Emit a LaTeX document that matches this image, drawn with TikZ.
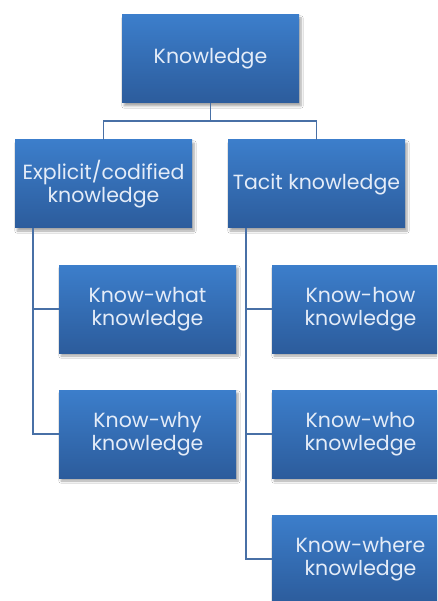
\documentclass[tikz,border=0pt]{standalone}
\usepackage{fontspec}
\setmainfont{Poppins}
\usepackage{tikz}
\usetikzlibrary{positioning, shadows.blur}

\definecolor{boxtop}{RGB}{60,126,203}
\definecolor{boxbot}{RGB}{44,92,156}
\definecolor{linkcol}{RGB}{72,112,166}
\definecolor{textcol}{RGB}{228,236,248}

\begin{document}
\begin{tikzpicture}[x=1pt, y=-1pt]
	\tikzset{
		kbox/.style={rectangle, minimum width=177pt, minimum height=88pt, inner sep=2pt,
			top color=boxtop, bottom color=boxbot, draw=none, text=textcol, align=center,
			font=\fontsize{20.5}{23}\selectfont,
			blur shadow={shadow xshift=2pt, shadow yshift=-3pt, shadow blur steps=6, shadow opacity=35}},
		link/.style={draw=linkcol, line width=1.8pt},
	}
	
	% Canvas
	\clip (0,0) rectangle (437,601);
	\fill[white] (0,0) rectangle (437,601);
	
	% Root and first level
	\node[kbox] (know) at (210.5, 59) {Knowledge};
	\node[kbox] (expl) at (103.5, 184) {Explicit/codified\\knowledge};
	\node[kbox] (tacit) at (316.5, 184) {Tacit knowledge};
	
	% Explicit branch
	\node[kbox] (what) at (147.5, 309) {Know-what\\knowledge};
	\node[kbox] (why) at (147.5, 434) {Know-why\\knowledge};
	
	% Tacit branch
	\node[kbox] (how) at (360.5, 309) {Know-how\\knowledge};
	\node[kbox] (who) at (360.5, 434) {Know-who\\knowledge};
	\node[kbox] (where) at (360.5, 559) {Know-where\\knowledge};
	
	% Connecting lines
	\draw[link] (know.south) -- ++(0,18) -| (expl.north);
	\draw[link] (know.south) -- ++(0,18) -| (tacit.north);
	\draw[link] ([xshift=18pt]expl.south west) |- (what.west);
	\draw[link] ([xshift=18pt]expl.south west) |- (why.west);
	\draw[link] ([xshift=18pt]tacit.south west) |- (how.west);
	\draw[link] ([xshift=18pt]tacit.south west) |- (who.west);
	\draw[link] ([xshift=18pt]tacit.south west) |- (where.west);
\end{tikzpicture}
\end{document}
